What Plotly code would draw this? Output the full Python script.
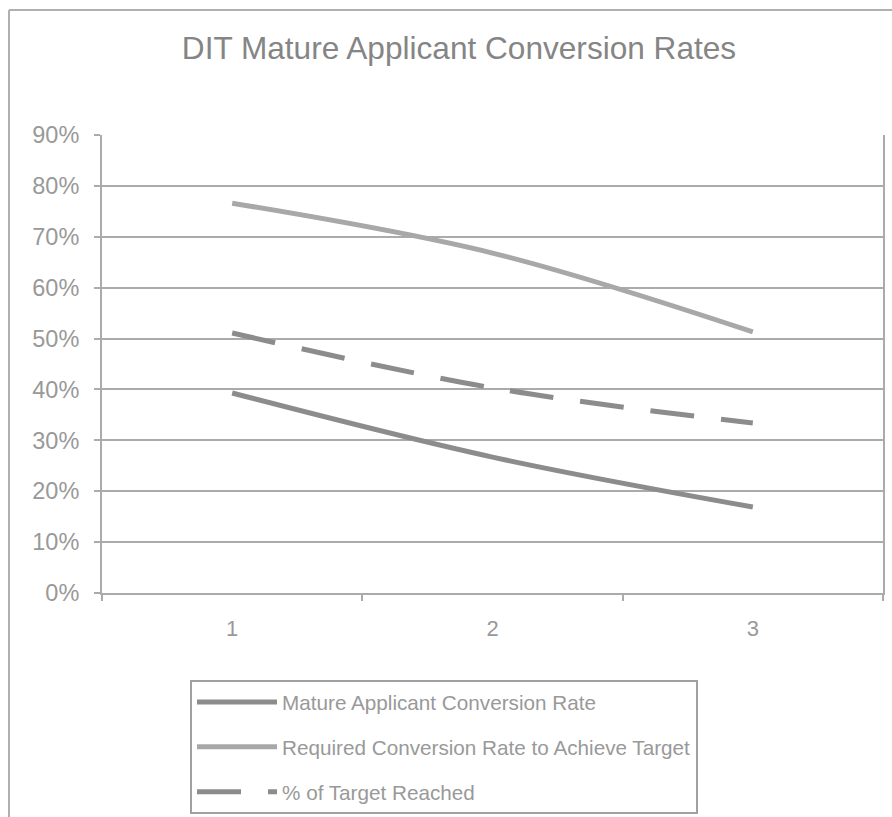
import plotly.graph_objects as go

categories = ["1", "2", "3"]
mature_rate = [0.393, 0.267, 0.169]
required_rate = [0.766, 0.668, 0.513]
target_reached = [0.511, 0.403, 0.334]
series_names = [
    "Mature Applicant Conversion Rate",
    "Required Conversion Rate to Achieve Target",
    "% of Target Reached",
]

W, H = 892, 817
L, R, T, B = 102, 883, 135, 593
pw, ph = R - L, B - T

def px(x):
    return (x - L) / pw

def py(y):
    return (B - y) / ph

dark = "#8c8c8c"
light = "#a8a8a8"
grid = "#ababab"
font = "Liberation Sans, Arial, sans-serif"

fig = go.Figure()
fig.add_trace(go.Scatter(x=categories, y=mature_rate, name=series_names[0], mode="lines",
                         line=dict(color=dark, width=5, shape="spline", smoothing=1),
                         legendgroup="a"))
fig.add_trace(go.Scatter(x=categories, y=required_rate, name=series_names[1], mode="lines",
                         line=dict(color=light, width=5, shape="spline", smoothing=1),
                         legendgroup="b"))
fig.add_trace(go.Scatter(x=categories, y=target_reached, name=series_names[2], mode="lines",
                         line=dict(color=dark, width=5, shape="spline", smoothing=1, dash="44px,27px"),
                         legendgroup="c"))

frame = dict(color="#b0b0b0", width=2)
fig.update_layout(
    width=W, height=H,
    margin=dict(l=L, r=W - R, t=T, b=H - B, autoexpand=False),
    paper_bgcolor="white", plot_bgcolor="white",
    font=dict(family=font, color="#999999"),
    title=dict(text="DIT Mature Applicant Conversion Rates", x=459 / W, xanchor="center",
               y=1 - 48 / H, yanchor="middle", yref="container",
               font=dict(size=31.6, color="#858585", family=font)),
    xaxis=dict(type="category", range=[-0.5, 2.5], tickson="boundaries", ticks="outside",
               ticklen=6, tickwidth=2, tickcolor=grid, showgrid=False, showline=True,
               linecolor=grid, linewidth=2, tickfont=dict(size=22, color="#999999"),
               ticklabelstandoff=15, zeroline=False),
    yaxis=dict(range=[0, 0.9], dtick=0.1, tickformat=".0%", ticks="outside", ticklen=6,
               tickwidth=2, tickcolor=grid, showgrid=True, gridcolor=grid, gridwidth=2,
               showline=True, linecolor=grid, linewidth=2, mirror=True, zeroline=False,
               tickfont=dict(size=23.5, color="#999999"), ticklabelstandoff=10),
    legend=dict(x=px(190), y=py(680), xanchor="left", yanchor="top", xref="paper", yref="paper",
                bordercolor="#a0a0a0", borderwidth=2, bgcolor="white",
                font=dict(size=20.7, color="#999999", family=font),
                itemwidth=80, traceorder="grouped", tracegroupgap=15),
    shapes=[
        dict(type="line", xref="paper", yref="paper", x0=px(9), x1=px(9), y0=py(830), y1=py(10),
             line=frame, layer="below"),
        dict(type="line", xref="paper", yref="paper", x0=px(9), x1=px(900), y0=py(10), y1=py(10),
             line=frame, layer="below"),
    ],
)

fig.write_html(
    "out.html",
    config={"displayModeBar": False, "staticPlot": True},
    post_script="document.body.style.margin='0';document.documentElement.style.overflow='hidden';",
)
